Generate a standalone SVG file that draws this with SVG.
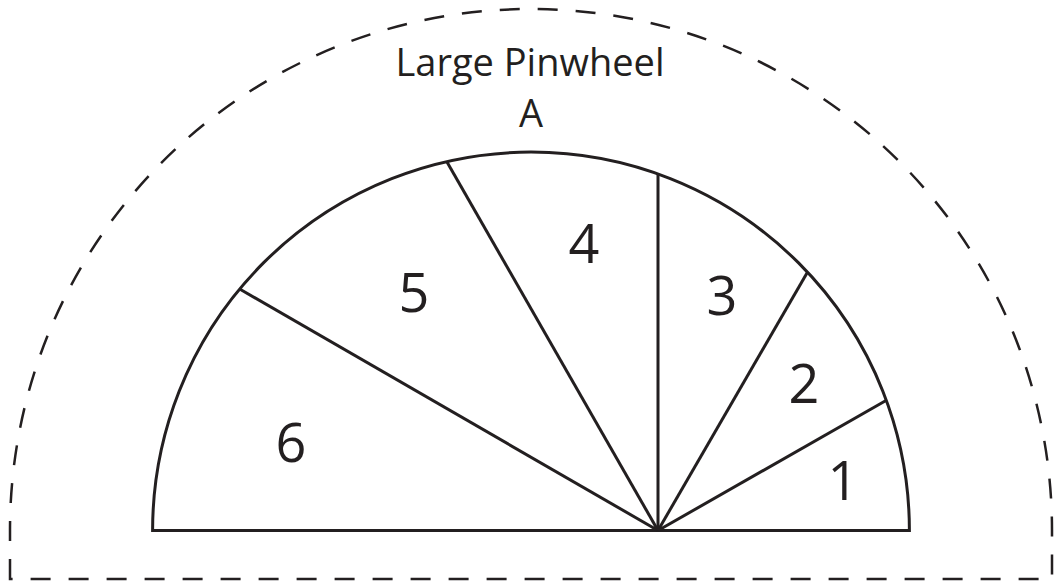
<svg xmlns="http://www.w3.org/2000/svg" width="1057" height="585" viewBox="0 0 1057 585">
<style>
.solid{fill:none;stroke:#231f20;stroke-width:3;stroke-linejoin:miter}
.dash{fill:none;stroke:#231f20;stroke-width:2.5;stroke-dasharray:20 18}
.num{font-family:"Open Sans","Liberation Sans",sans-serif;font-size:54px;fill:#231f20;text-anchor:middle}
.title{font-family:"Open Sans","Liberation Sans",sans-serif;font-size:38px;fill:#231f20;text-anchor:middle}
</style>
<rect width="1057" height="585" fill="#fff"/>
<g id="outline">
<path class="dash" d="M10,579 L10,530 A521,521 0 0 1 1052,530 L1052,579 Z"/>
</g>
<g id="title">
<text class="title" x="530" y="76">Large Pinwheel</text>
<text class="title" x="531" y="127">A</text>
</g>
<g id="pinwheel">
<path class="solid" d="M152.6,530.5 A378.4,378.4 0 0 1 909.4,530.5 Z"/>
<g id="rays">
<line class="solid" x1="658" y1="530.5" x2="240.5" y2="289.5"/>
<line class="solid" x1="658" y1="530.5" x2="447" y2="162"/>
<line class="solid" x1="658" y1="530.5" x2="658" y2="174"/>
<line class="solid" x1="658" y1="530.5" x2="807" y2="273"/>
<line class="solid" x1="658" y1="530.5" x2="886" y2="400.5"/>
</g>
</g>
<g id="labels">
<text class="num" x="843" y="500">1</text>
<text class="num" x="804" y="403">2</text>
<text class="num" x="722" y="315">3</text>
<text class="num" x="584" y="263">4</text>
<text class="num" x="414" y="312">5</text>
<text class="num" x="291" y="462">6</text>
</g>
</svg>
